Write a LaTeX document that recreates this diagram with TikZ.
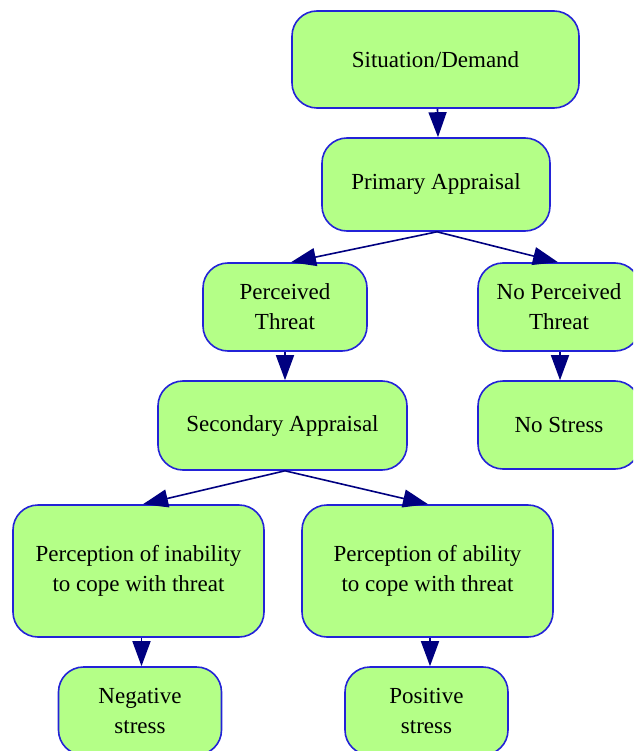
\documentclass[tikz,border=0pt]{standalone}
\usepackage{fontspec}
\setmainfont{Liberation Serif}
\usetikzlibrary{arrows.meta}
\definecolor{boxfill}{RGB}{180,255,135}
\definecolor{boxline}{RGB}{35,35,215}
\definecolor{edgecol}{RGB}{0,0,128}
\begin{document}
\begin{tikzpicture}[x=1pt,y=-1pt,
  box/.style={draw=boxline, fill=boxfill, line width=1.6pt, rounded corners=25pt,
    align=center, inner sep=0pt, font=\fontsize{23}{30}\selectfont},
  link/.style={draw=edgecol, line width=1.6pt, -{Triangle[length=25pt,width=18pt]}}]
\useasboundingbox (0,0) rectangle (633,751);
\clip (0,0) rectangle (633,751);
\node[box, minimum width=287pt, minimum height=97pt] (sit) at (435.5,59.5) {Situation/Demand};
\node[box, minimum width=228pt, minimum height=93pt] (pa) at (436,184.5) {Primary Appraisal};
\node[box, minimum width=164pt, minimum height=88pt] (pt) at (285,307) {Perceived\\Threat};
\node[box, minimum width=162pt, minimum height=88pt] (npt) at (559,307) {No Perceived\\Threat};
\node[box, minimum width=249pt, minimum height=89pt] (sa) at (282.5,425.5) {Secondary Appraisal};
\node[box, minimum width=162pt, minimum height=88pt] (ns) at (559,425) {No Stress};
\node[box, minimum width=251pt, minimum height=132pt] (pin) at (138.5,571) {Perception of inability\\to cope with threat};
\node[box, minimum width=251pt, minimum height=132pt] (pab) at (427.5,571) {Perception of ability\\to cope with threat};
\node[box, minimum width=163pt, minimum height=88pt] (neg) at (140,711) {Negative\\stress};
\node[box, minimum width=163pt, minimum height=88pt] (pos) at (426.5,711) {Positive\\stress};
\draw[link] ([xshift=2pt]sit.south) -- ([xshift=2pt]pa.north);
\draw[link] ([xshift=1pt]pa.south) -- ([xshift=6pt]pt.north);
\draw[link] ([xshift=1pt]pa.south) -- ([xshift=-1pt]npt.north);
\draw[link] (pt.south) -- (pt.south |- sa.north);
\draw[link] ([xshift=1pt]npt.south) -- ([xshift=1pt]ns.north);
\draw[link] ([xshift=2.5pt]sa.south) -- ([xshift=4.5pt]pin.north);
\draw[link] ([xshift=2.5pt]sa.south) -- ([xshift=0.5pt]pab.north);
\draw[link] ([xshift=3pt]pin.south) -- ([xshift=1.5pt]neg.north);
\draw[link] ([xshift=2.5pt]pab.south) -- ([xshift=3.5pt]pos.north);
\end{tikzpicture}
\end{document}
